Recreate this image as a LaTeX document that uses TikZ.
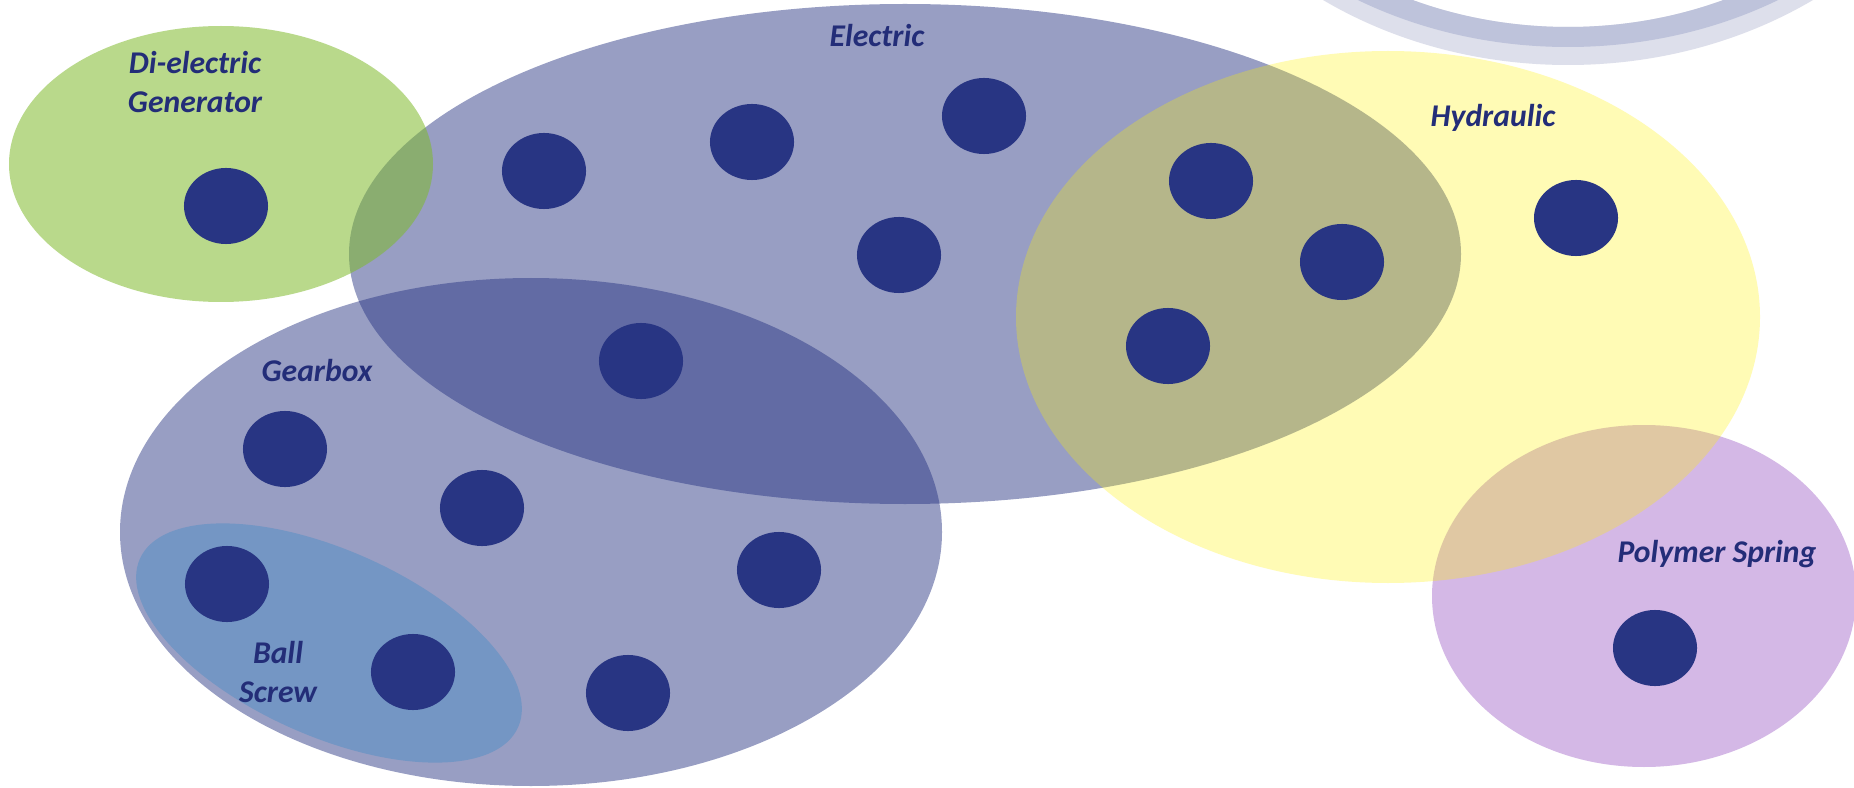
\documentclass[tikz,border=0pt]{standalone}
\usepackage{fontspec}
\setmainfont{Carlito}
\usetikzlibrary{shapes.geometric}

\definecolor{dotc}{RGB}{40,53,131}
\definecolor{txtc}{RGB}{35,45,120}
\definecolor{greenc}{RGB}{128,186,45}
\definecolor{purplec}{RGB}{212,184,230}
\definecolor{screwc}{RGB}{116,150,196}
\definecolor{ringlight}{RGB}{221,223,235}
\definecolor{ringdark}{RGB}{190,195,219}

\tikzset{
  dot/.style={ellipse, fill=dotc, inner sep=0pt, minimum width=0.84cm, minimum height=0.76cm},
  lbl/.style={text=txtc, font=\fontsize{9}{11.1}\selectfont\bfseries\itshape, inner sep=0pt, align=center},
  setblue/.style={fill=dotc, fill opacity=0.48},
  setyellow/.style={fill=yellow, fill opacity=0.29},
  setgreen/.style={fill=greenc, fill opacity=0.55},
}

\begin{document}
\begin{tikzpicture}[x=0.01cm, y=-0.01cm]
\useasboundingbox (0,0) rectangle (1854,788);
\fill[white] (0,0) rectangle (1854,788);

% decorative rings at the top right
\fill[ringlight, even odd rule] (1568,-300) ellipse [x radius=430, y radius=365]
                                (1568,-300) ellipse [x radius=390, y radius=327];
\fill[ringdark, even odd rule] (1568,-300) ellipse [x radius=418, y radius=347]
                               (1568,-300) ellipse [x radius=390, y radius=327];

% sets
\fill[purplec] (1644,596) ellipse [x radius=212, y radius=171];
\fill[setblue] (905,254) ellipse [x radius=556, y radius=250];
\fill[setblue] (531,532) ellipse [x radius=411, y radius=254];
\fill[screwc, rotate around={-24:(329,643)}] (329,643) ellipse [x radius=207, y radius=93];
\fill[setyellow] (1388,317) ellipse [x radius=372, y radius=266];
\fill[setgreen] (221,164) ellipse [x radius=212, y radius=138];

% members
\node[dot] (d1)  at (226,206) {};
\node[dot] (d2)  at (544,171) {};
\node[dot] (d3)  at (752,142) {};
\node[dot] (d4)  at (984,116) {};
\node[dot] (d5)  at (899,255) {};
\node[dot] (d6)  at (1211,181) {};
\node[dot] (d7)  at (1342,262) {};
\node[dot] (d8)  at (1168,346) {};
\node[dot] (d9)  at (1576,218) {};
\node[dot] (d10) at (641,361) {};
\node[dot] (d11) at (285,449) {};
\node[dot] (d12) at (482,508) {};
\node[dot] (d13) at (779,570) {};
\node[dot] (d14) at (227,584) {};
\node[dot] (d15) at (413,672) {};
\node[dot] (d16) at (628,693) {};
\node[dot] (d17) at (1655,648) {};

% labels
\node[lbl] (lgen) at (195,82) {Di-electric\\Generator};
\node[lbl, anchor=base] (lele) at (877,47) {Electric};
\node[lbl, anchor=base] (lhyd) at (1493,127) {Hydraulic};
\node[lbl, anchor=base] (lgear) at (317,381) {Gearbox};
\node[lbl] (lball) at (278,672) {Ball\\Screw};
\node[lbl, anchor=base] (lpoly) at (1717,562) {Polymer Spring};
\end{tikzpicture}
\end{document}
